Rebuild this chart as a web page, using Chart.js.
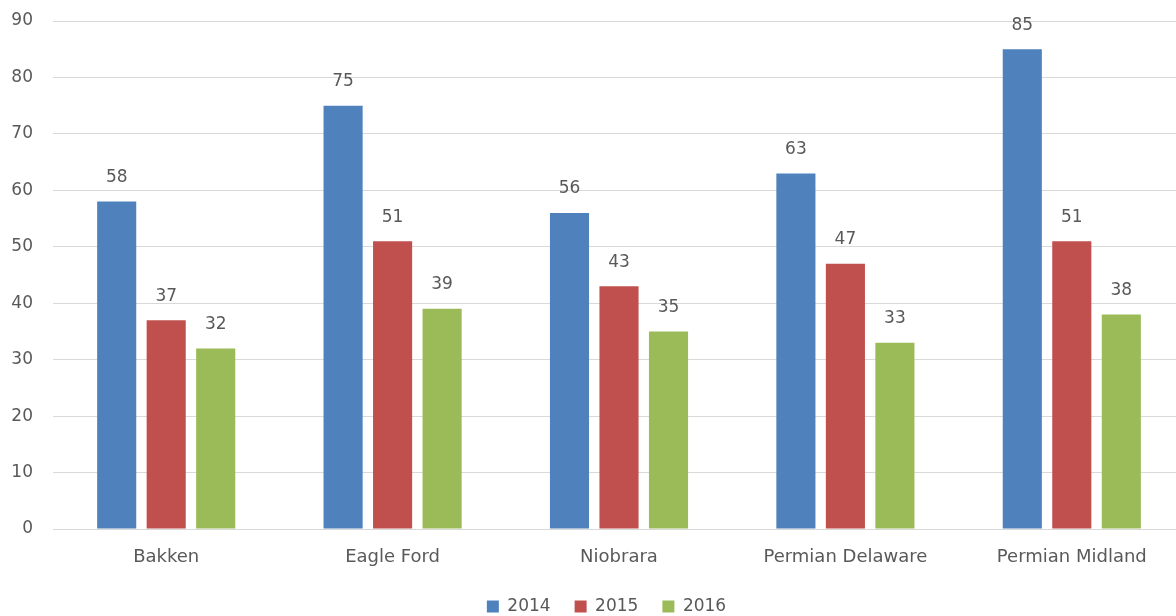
<!DOCTYPE html>
<html>
<head>
<meta charset="utf-8">
<script src="https://cdn.jsdelivr.net/npm/chart.js@4/dist/chart.umd.min.js"></script>
<style>
  html, body { margin: 0; padding: 0; background: #fff; overflow: hidden; }
  #wrap { width: 1243px; height: 616px; position: relative; }
</style>
</head>
<body>
<div id="wrap"><canvas id="plays_chart"></canvas></div>
<script>
const plays = ["Bakken", "Eagle Ford", "Niobrara", "Permian Delaware", "Permian Midland"];
const values2014 = [58, 75, 56, 63, 85];
const values2015 = [37, 51, 43, 47, 51];
const values2016 = [32, 39, 35, 33, 38];
const yTicks = [0, 10, 20, 30, 40, 50, 60, 70, 80, 90];

const textColor = "#595959";
const fontFamily = "'DejaVu Sans', sans-serif";

// value labels above every bar
const barLabels = {
  id: "barLabels",
  afterDatasetsDraw(chart) {
    const ctx = chart.ctx;
    ctx.save();
    ctx.font = "17px " + fontFamily;
    ctx.fillStyle = textColor;
    ctx.textAlign = "center";
    ctx.textBaseline = "middle";
    chart.data.datasets.forEach((ds, i) => {
      chart.getDatasetMeta(i).data.forEach((bar, j) => {
        ctx.fillText(ds.data[j], bar.x, bar.y - 24);
      });
    });
    ctx.restore();
  }
};

const ctx = document.getElementById("plays_chart").getContext("2d");
const myChart = new Chart(ctx, {
  type: "bar",
  data: {
    labels: plays,
    datasets: [
      { label: "2014", data: values2014, backgroundColor: "#4f81bd" },
      { label: "2015", data: values2015, backgroundColor: "#c0504d" },
      { label: "2016", data: values2016, backgroundColor: "#9bbb59" },
    ],
  },
  options: {
    responsive: true,
    maintainAspectRatio: false,
    animation: false,
    categoryPercentage: 0.656,
    barPercentage: 0.79,
    layout: { padding: { top: 21, right: 30, left: 0, bottom: -9 } },
    scales: {
      x: {
        grid: { display: false },
        border: { display: false },
        ticks: { color: textColor, font: { family: fontFamily, size: 18 }, padding: 10 },
        afterFit(scale) { scale.height = 45; },
      },
      y: {
        min: 0,
        max: 90,
        afterBuildTicks(scale) { scale.ticks = yTicks.map(v => ({ value: v })); },
        grid: { color: "#d9d9d9", lineWidth: 1, drawTicks: false },
        border: { display: false },
        ticks: { color: textColor, font: { family: fontFamily, size: 17 }, padding: 20 },
        afterFit(scale) {
          scale.width = 53;
          // tick padding should only push labels sideways, not shrink the plot
          scale.paddingTop = 0;
          scale.paddingBottom = 0;
        },
      },
      // empty right-hand gutter so the legend centres on the whole chart, not the plot
      gutter: {
        type: "linear",
        position: "right",
        display: true,
        grid: { display: false },
        border: { display: false },
        ticks: { display: false },
        afterFit(scale) {
          scale.width = 28;
          scale.paddingTop = 0;
          scale.paddingBottom = 0;
        },
      },
    },
    plugins: {
      legend: {
        position: "bottom",
        labels: {
          color: textColor,
          font: { family: fontFamily, size: 17 },
          boxWidth: 12,
          boxHeight: 12,
          padding: 24,
        },
      },
      tooltip: { enabled: false },
    },
  },
  plugins: [barLabels],
});
</script>
</body>
</html>
